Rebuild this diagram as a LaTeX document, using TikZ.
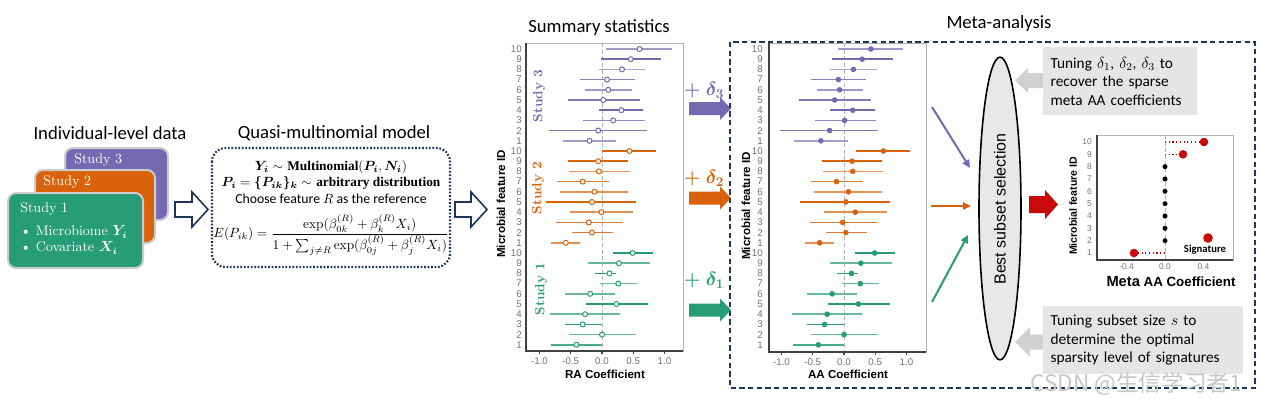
\documentclass[tikz,border=0pt]{standalone}
\usepackage{amsmath}
\usepackage{amssymb}
\usepackage{bm}
\usepackage{fontspec}
\newfontfamily\calibri{Carlito}
\newfontfamily\arial{Liberation Sans}
\newfontfamily\timesbf{Liberation Serif}
\newfontfamily\cjk{Noto Sans CJK SC}
\usepackage{tikz}
\usetikzlibrary{shapes.geometric}
\usetikzlibrary{arrows.meta}

\definecolor{purp}{RGB}{117,106,178}
\definecolor{orng}{RGB}{217,98,10}
\definecolor{grn}{RGB}{38,156,119}
\definecolor{navy}{RGB}{31,54,92}
\definecolor{sigred}{RGB}{200,10,10}

\tikzset{
  title/.style={font=\calibri\fontsize{14}{16}\selectfont, inner sep=0.75pt},
  card/.style={draw=black!20, line width=1.5pt, rounded corners=6pt},
  cardtxt/.style={font=\fontsize{10.5}{12}\selectfont, text=white, inner sep=0.75pt, anchor=west},
  hollow/.style={draw=navy, line width=1.2pt, fill=white, line join=miter},
  ytick/.style={font=\arial\fontsize{7.3}{8}\selectfont, text=black!55, inner sep=0.75pt, anchor=east},
  xtick/.style={font=\arial\fontsize{7.3}{8}\selectfont, text=black!55, inner sep=0.75pt},
  axlabel/.style={font=\arial\bfseries\fontsize{8.7}{10}\selectfont, inner sep=0.75pt},
  studylab/.style={font=\bfseries\fontsize{10}{12}\selectfont, rotate=90, inner sep=0.75pt},
  ciline/.style={line width=1.1pt},
  opendot/.style={draw=#1, fill=white, line width=0.75pt},
  fulldot/.style={draw=#1, fill=#1},
  zeroline/.style={draw=black!30, dash pattern=on 3pt off 2pt, line width=0.7pt},
  frame/.style={draw=black!30, line width=0.7pt},
  axisline/.style={draw=black!75, line width=0.9pt},
  deltalab/.style={font=\fontsize{14}{16}\selectfont, inner sep=0.75pt},
  inarrow/.style={line width=1.5pt, -{Triangle[length=6pt,width=5.5pt]}},
  tunebox/.style={fill=black!10, font=\calibri\fontsize{11.5}{13.8}\selectfont, align=left, inner xsep=5.5pt, anchor=north west},
  formula/.style={inner sep=0.75pt, font=\fontsize{10}{12}\selectfont},
}

% row/low/estimate/high/shade, RA coefficients
\newcommand{\studythree}{10/0.07/0.60/1.12/70, 9/-0.02/0.46/0.95/100, 8/-0.05/0.32/0.69/60, 7/-0.36/0.08/0.52/85, 6/-0.27/0.10/0.48/70, 5/-0.55/0.02/0.60/90, 4/-0.05/0.31/0.66/100, 3/-0.30/0.18/0.68/80, 2/-0.85/-0.06/0.72/90, 1/-0.63/-0.20/0.23/65}
\newcommand{\studytwo}{10/0.00/0.44/0.86/100, 9/-0.55/-0.06/0.42/100, 8/-0.53/-0.05/0.44/70, 7/-0.72/-0.31/0.11/85, 6/-0.67/-0.12/0.41/70, 5/-0.89/-0.16/0.55/100, 4/-0.51/-0.01/0.49/70, 3/-0.73/-0.21/0.33/85, 2/-0.48/-0.16/0.17/85, 1/-0.81/-0.58/-0.35/70}
\newcommand{\studyone}{10/0.18/0.49/0.81/100, 9/-0.22/0.27/0.76/70, 8/-0.12/0.12/0.22/100, 7/-0.03/0.26/0.56/70, 6/-0.59/-0.19/0.20/70, 5/-0.26/0.23/0.73/100, 4/-0.84/-0.27/0.28/70, 3/-0.60/-0.31/0.00/100, 2/-0.53/0.00/0.54/70, 1/-0.82/-0.41/0.00/85}

% #1 x of zero, #2 shift, #3 y of row 10, #4 colour, #5 rows, #6 dot style
\newcommand{\forestrows}[6]{%
  \foreach \rw/\lo/\md/\hi/\sh in #5 {
    \draw[ciline, #4!\sh] ({#1+62.5*(\lo+(#2))},{#3+10.2*(10-\rw)}) -- ({#1+62.5*(\hi+(#2))},{#3+10.2*(10-\rw)});
    \draw[#6=#4] ({#1+62.5*(\md+(#2))},{#3+10.2*(10-\rw)}) circle (2.5);
  }}

\begin{document}
\begin{tikzpicture}[x=0.75pt,y=0.75pt,yscale=-1,xscale=1]
    \useasboundingbox (0,0) rectangle (1261,401);
    \fill[white] (0,0) rectangle (1261,401);

    % individual-level data
    \node[title] (indtitle) at (110,133) {Individual-level data};
    \draw[card, fill=purp] (65,148) rectangle (168,220);
    \draw[card, fill=orng] (35,170) rectangle (155,243);
    \draw[card, fill=grn] (8,193) rectangle (143,268);
    \node[cardtxt] (st3) at (73,160) {Study 3};
    \node[cardtxt] (st2) at (42,182) {Study 2};
    \node[cardtxt] (st1) at (19,209) {Study 1};
    \node[cardtxt] (mbio) at (19,232) {\textbullet\ Microbiome $\bm{Y_i}$};
    \node[cardtxt] (covar) at (19,248) {\textbullet\ Covariate $\bm{X_i}$};
    \draw[hollow] (175,202) -- (192,202) -- (192,192) -- (208,209.5) -- (192,227) -- (192,217) -- (175,217) -- cycle;

    % model
    \node[title] (qtitle) at (334,133) {Quasi-multinomial model};
    \draw[navy, line width=1.6pt, dash pattern=on 1.3pt off 1.3pt, rounded corners=10pt] (212,148) rectangle (450,267);
    \node[formula] (qline1) at (331,167) {$\bm{Y_i} \sim$ {\timesbf\bfseries Multinomial}$(\bm{P_i}, \bm{N_i})$};
    \node[formula] (qline2) at (331,183) {$\bm{P_i} = \bm{\{P_{ik}\}_k} \sim$ {\timesbf\bfseries arbitrary distribution}};
    \node[formula, font=\calibri\fontsize{10.3}{12}\selectfont] (qline3) at (331,198.5) {Choose feature $R$ as the reference};
    \node[formula] (qline4) at (331,235) {$E(P_{ik}) = \dfrac{\exp(\beta_{0k}^{(R)} + \beta_k^{(R)} X_i)}{1+\sum_{j\neq R}\exp(\beta_{0j}^{(R)}+\beta_j^{(R)}X_i)}$};
    \draw[hollow] (455,202) -- (471,202) -- (471,192) -- (487,209.5) -- (471,227) -- (471,217) -- (455,217) -- cycle;

    % summary statistics
    \node[title] (sumtitle) at (599,28) {Summary statistics};
    \draw[frame] (526,43) rectangle (683,351);
    \draw[zeroline] (602,43) -- (602,351);
    \forestrows{602}{0}{49}{purp}{\studythree}{opendot}
    \forestrows{602}{0}{151}{orng}{\studytwo}{opendot}
    \forestrows{602}{0}{253}{grn}{\studyone}{opendot}
    \draw[axisline] (526,43) -- (526,351) -- (683,351);
    \foreach \rw in {1,...,10} {
      \node[ytick] (raC\rw) at (523,{49+10.2*(10-\rw)}) {\rw};
      \node[ytick] (raB\rw) at (523,{151+10.2*(10-\rw)}) {\rw};
      \node[ytick] (raA\rw) at (523,{253+10.2*(10-\rw)}) {\rw};
    }
    \foreach \v/\lab [count=\i] in {-1/-1.0,-0.5/-0.5,0/0.0,0.5/0.5,1/1.0} {
      \draw[axisline] ({602+62.5*\v},351) -- ({602+62.5*\v},354);
      \node[xtick] (rax\i) at ({602+62.5*\v},361) {\lab};
    }
    \node[axlabel] (raxlab) at (605,374) {RA Coefficient};
    \node[axlabel, rotate=90] (raylab) at (501,204) {Microbial feature ID};
    \node[studylab, text=purp] (ralab3) at (539,96) {Study 3};
    \node[studylab, text=orng] (ralab2) at (538,188) {Study 2};
    \node[studylab, text=grn] (ralab1) at (541,289) {Study 1};

    % delta shifts
    \node[deltalab, text=purp] (dlt3) at (704,90) {$\bm{+\;\delta_3}$};
    \node[deltalab, text=orng] (dlt2) at (704,178) {$\bm{+\;\delta_2}$};
    \node[deltalab, text=grn] (dlt1) at (704,280) {$\bm{+\;\delta_1}$};
    \fill[purp] (689,102) -- (720,102) -- (720,97) -- (731,108.5) -- (720,120) -- (720,115) -- (689,115) -- cycle;
    \fill[orng] (689,191.5) -- (720,191.5) -- (720,186.5) -- (731,198) -- (720,209.5) -- (720,204.5) -- (689,204.5) -- cycle;
    \fill[grn] (689,303.5) -- (720,303.5) -- (720,298.5) -- (731,310) -- (720,321.5) -- (720,316.5) -- (689,316.5) -- cycle;

    % meta-analysis
    \node[title] (metatitle) at (999,24) {Meta-analysis};
    \draw[navy, line width=1.3pt, dash pattern=on 4pt off 2.5pt] (730,42) rectangle (1255,388);
    \draw[frame] (769,43) rectangle (926,352);
    \draw[zeroline] (844,43) -- (844,352);
    \forestrows{844}{-0.17}{49}{purp}{\studythree}{fulldot}
    \forestrows{844}{0.19}{151}{orng}{\studytwo}{fulldot}
    \forestrows{844}{0}{253}{grn}{\studyone}{fulldot}
    \draw[axisline] (769,43) -- (769,352) -- (926,352);
    \foreach \rw in {1,...,10} {
      \node[ytick] (aaC\rw) at (764,{49+10.2*(10-\rw)}) {\rw};
      \node[ytick] (aaB\rw) at (764,{151+10.2*(10-\rw)}) {\rw};
      \node[ytick] (aaA\rw) at (764,{253+10.2*(10-\rw)}) {\rw};
    }
    \foreach \v/\lab [count=\i] in {-1/-1.0,-0.5/-0.5,0/0.0,0.5/0.5,1/1.0} {
      \draw[axisline] ({844+62.5*\v},352) -- ({844+62.5*\v},355);
      \node[xtick] (aax\i) at ({844+62.5*\v},362) {\lab};
    }
    \node[axlabel] (aaxlab) at (848,374) {AA Coefficient};
    \node[axlabel, rotate=90] (aaylab) at (746,206) {Microbial feature ID};

    % best subset selection
    \node[ellipse, draw=black, line width=1.2pt, fill=black!9, minimum width=31.5pt, minimum height=227pt, inner sep=0pt] (best) at (1000,208.5) {};
    \node[rotate=90, inner sep=0.75pt, font=\arial\fontsize{12}{14}\selectfont] (bestlab) at (1000,209) {Best subset selection};
    \coordinate (from3) at (932,107);
    \coordinate (to3) at (970,168);
    \coordinate (from2) at (931,206);
    \coordinate (to2) at (971,206);
    \coordinate (from1) at (932,302);
    \coordinate (to1) at (968,235);
    \draw[inarrow, purp] (from3) -- (to3);
    \draw[inarrow, orng] (from2) -- (to2);
    \draw[inarrow, grn] (from1) -- (to1);
    \fill[sigred] (1029,196) -- (1045,196) -- (1045,190) -- (1058,204.5) -- (1045,219) -- (1045,213) -- (1029,213) -- cycle;

    % tuning notes
    \fill[black!18] (1043,73) -- (1028,73) -- (1028,68) -- (1015,80.5) -- (1028,93) -- (1028,88) -- (1043,88) -- cycle;
    \node[tunebox, minimum width=115.5pt, minimum height=51pt, text width=104.5pt] (tune1) at (1043,47) {Tuning $\delta_1$, $\delta_2$, $\delta_3$ to\\recover the sparse\\meta AA coefficients};
    \fill[black!18] (1043,334.5) -- (1030,334.5) -- (1030,327) -- (1015,342) -- (1030,357) -- (1030,349.5) -- (1043,349.5) -- cycle;
    \node[tunebox, minimum width=150pt, minimum height=51pt, text width=139pt] (tune2) at (1043,306) {Tuning subset size $s$ to\\determine the optimal\\sparsity level of signatures};

    % signature plot
    \draw[frame] (1097,135) rectangle (1233,260);
    \draw[zeroline] (1165,135) -- (1165,260);
    \draw[axisline] (1097,135) -- (1097,260) -- (1233,260);
    \foreach \rw in {1,...,10} {
      \node[ytick, font=\arial\fontsize{6.3}{7}\selectfont] (sg\rw) at (1093,{142+12.33*(10-\rw)}) {\rw};
    }
    \foreach \v/\lab [count=\i] in {-0.4/-0.4,0/0.0,0.4/0.4} {
      \node[xtick, font=\arial\fontsize{6.3}{7}\selectfont] (sgx\i) at ({1165+96*\v},267) {\lab};
    }
    \draw[sigred, dotted, line width=0.8pt] (1165,142) -- (1204,142);
    \draw[sigred, dotted, line width=0.8pt] (1165,154.3) -- (1183,154.3);
    \draw[sigred, dotted, line width=0.8pt] (1165,253) -- (1134,253);
    \foreach \rw in {2,...,8} {
      \fill[black] (1165,{142+12.33*(10-\rw)}) circle (2.5);
    }
    \fill[sigred] (1204,142) circle (4.3);
    \fill[sigred] (1183,154.3) circle (4.3);
    \fill[sigred] (1134,253) circle (4.3);
    \fill[sigred] (1208,238) circle (4.8);
    \node[inner sep=0.75pt, font=\calibri\bfseries\fontsize{8}{9}\selectfont] (siglab) at (1205,249.5) {Signature};
    \node[axlabel, rotate=90, font=\arial\bfseries\fontsize{7.9}{9}\selectfont] (sgylab) at (1073,206) {Microbial feature ID};
    \node[inner sep=0.75pt, font=\arial\bfseries\fontsize{10}{12}\selectfont] (sgxlab) at (1171,282) {{\fontsize{11}{12}\selectfont Meta} AA Coefficient};

    % watermark
    \node[anchor=west, inner sep=0pt, text=black!22, font=\cjk\fontsize{17}{19}\selectfont] (wmark) at (1030,384) {CSDN @生信学习者1};
\end{tikzpicture}
\end{document}
